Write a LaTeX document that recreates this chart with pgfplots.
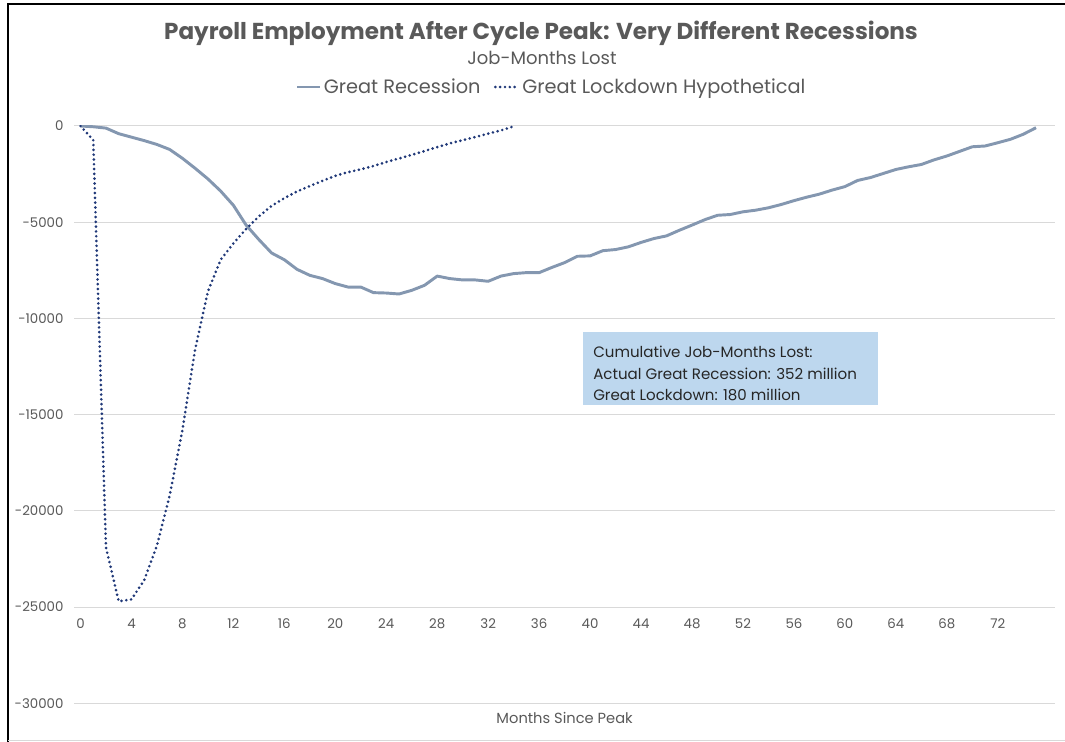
\documentclass[border=0pt]{standalone}
\usepackage{pgfplots}
\pgfplotsset{compat=1.18}
\usepackage{fontspec}
\setmainfont{Poppins}
\definecolor{txt}{RGB}{89,89,89}
\definecolor{gridc}{RGB}{217,217,217}
\definecolor{grc}{RGB}{132,151,176}
\definecolor{glc}{RGB}{32,56,120}
\definecolor{boxc}{RGB}{189,215,238}
\begin{document}
\begin{tikzpicture}
\begin{scope}[x=0.75pt,y=0.75pt]
\path[use as bounding box] (0,0) rectangle (1065,742);
\draw[black, line width=1.6pt] (8,0) -- (8,738) -- (1065,738);
\draw[gridc, line width=0.75pt] (8,1) -- (1065,1);
\node[text=txt, font=\bfseries\fontsize{17.3}{20}\selectfont] at (541,709) {Payroll Employment After Cycle Peak: Very Different Recessions};
\node[text=txt, font=\fontsize{13.5}{16}\selectfont] at (542,684) {Job-Months Lost};
\end{scope}
\begin{axis}[
  at={(60.375pt,462pt)}, anchor=origin,
  scale only axis, width=735.75pt, height=433pt,
  xmin=-0.5, xmax=76.5, ymin=-30000, ymax=0,
  scaled y ticks=false, scaled x ticks=false,
  axis line style={draw=none},
  major tick length=0pt,
  ymajorgrids, grid style={color=gridc, line width=0.75pt},
  ytick={-30000,-25000,-20000,-15000,-10000,-5000,0},
  yticklabels={-30000,-25000,-20000,-15000,-10000,-5000,0},
  xtick={0,4,8,12,16,20,24,28,32,36,40,44,48,52,56,60,64,68,72},
  xticklabels={0,4,8,12,16,20,24,28,32,36,40,44,48,52,56,60,64,68,72},
  tick label style={font=\fontsize{10}{12}\selectfont, text=txt},
  yticklabel style={xshift=-4.5pt},
  xticklabel style={yshift=67pt},
  xlabel={Months Since Peak},
  xlabel style={at={(axis description cs:0.5,0)}, anchor=north, yshift=-3pt, font=\fontsize{11}{13}\selectfont, text=txt},
  legend style={at={(0.487,1.0675)}, anchor=center, draw=none, fill=none, font=\fontsize{14.5}{17}\selectfont, text=txt, /tikz/every even column/.append style={column sep=8pt}},
  legend columns=2,
  legend cell align=left,
]
\addplot[grc, line width=2.2pt, line join=round] table {
x y
0 0
1 -40
2 -110
3 -400
4 -580
5 -760
6 -960
7 -1220
8 -1680
9 -2200
10 -2750
11 -3380
12 -4120
13 -5150
14 -5900
15 -6600
16 -6950
17 -7450
18 -7760
19 -7930
20 -8190
21 -8370
22 -8370
23 -8660
24 -8680
25 -8730
26 -8540
27 -8280
28 -7800
29 -7930
30 -8000
31 -8000
32 -8070
33 -7800
34 -7670
35 -7620
36 -7620
37 -7350
38 -7100
39 -6770
40 -6750
41 -6480
42 -6420
43 -6280
44 -6050
45 -5850
46 -5710
47 -5420
48 -5150
49 -4870
50 -4640
51 -4600
52 -4460
53 -4375
54 -4250
55 -4080
56 -3880
57 -3700
58 -3540
59 -3330
60 -3150
61 -2830
62 -2680
63 -2470
64 -2260
65 -2120
66 -2000
67 -1760
68 -1560
69 -1320
70 -1080
71 -1040
72 -870
73 -690
74 -430
75 -90
};
\addlegendentry{Great Recession}
\addplot[glc, line width=2.2pt, line cap=round, dash pattern=on 0pt off 3.6pt] table {
x y
0 0
1 -730
2 -21900
3 -24700
4 -24600
5 -23600
6 -21800
7 -19200
8 -15800
9 -11600
10 -8600
11 -6950
12 -6100
13 -5350
14 -4700
15 -4150
16 -3750
17 -3400
18 -3120
19 -2850
20 -2590
21 -2400
22 -2250
23 -2080
24 -1870
25 -1690
26 -1500
27 -1300
28 -1100
29 -900
30 -740
31 -570
32 -400
33 -230
34 -20
};
\addlegendentry{Great Lockdown Hypothetical}
\end{axis}
\begin{scope}[x=0.75pt,y=0.75pt]
\fill[boxc] (583,410) rectangle (878,337);
\node[anchor=north west, align=left, inner sep=0pt, text=black!85, font=\fontsize{11.3}{16}\selectfont] at (593,396) {Cumulative Job-Months Lost:\\Actual Great Recession: 352 million\\Great Lockdown: 180 million};
\end{scope}
\end{tikzpicture}
\end{document}
